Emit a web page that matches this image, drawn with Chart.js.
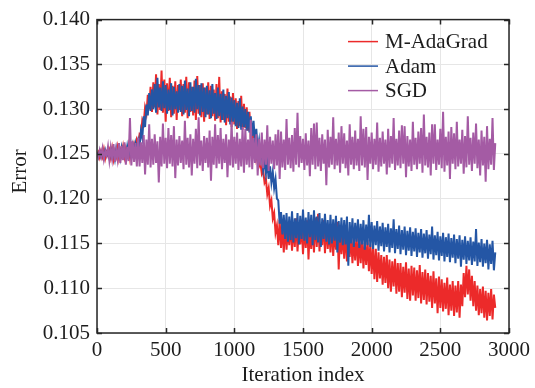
<!DOCTYPE html>
<html>
<head>
<meta charset="utf-8">
<title>Error vs iteration</title>
<script src="https://cdn.jsdelivr.net/npm/chart.js@4.4.1/dist/chart.umd.min.js"></script>
<style>
    html, body { margin: 0; padding: 0; background: #ffffff; }
    #errChart { display: block; }
</style>
</head>
<body>
<canvas id="errChart" width="535" height="388"></canvas>
<script>
// Series, one value every 10 iterations
const iterStep = 10;
const seriesNames = ['M-AdaGrad', 'Adam', 'SGD'];
const seriesColors = ['#ec2a2a', '#2456a5', '#a45ba4'];
const xTicks = [0, 500, 1000, 1500, 2000, 2500, 3000];
const yTicks = [0.105, 0.110, 0.115, 0.120, 0.125, 0.130, 0.135, 0.140];

const mAdaGrad = [
    0.1249,0.1252,0.1246,0.1253,0.1247,0.1255,0.1245,0.1252,0.1248,0.1254,
    0.1246,0.1256,0.1244,0.1253,0.1247,0.1257,0.1245,0.1254,0.1248,0.1258,
    0.1247,0.1256,0.1249,0.1259,0.1246,0.1257,0.1252,0.1261,0.1255,0.1266,
    0.1262,0.1272,0.1270,0.1288,0.1284,0.1302,0.1295,0.1316,0.1300,0.1325,
    0.1297,0.1330,0.1302,0.1339,0.1294,0.1328,0.1299,0.1343,0.1296,0.1333,
    0.1286,0.1329,0.1298,0.1335,0.1291,0.1326,0.1295,0.1331,0.1288,0.1327,
    0.1299,0.1333,0.1292,0.1328,0.1296,0.1336,0.1290,0.1330,0.1297,0.1325,
    0.1293,0.1332,0.1288,0.1337,0.1295,0.1327,0.1291,0.1329,0.1286,0.1324,
    0.1294,0.1330,0.1289,0.1326,0.1292,0.1322,0.1287,0.1328,0.1290,0.1336,
    0.1285,0.1320,0.1288,0.1317,0.1282,0.1323,0.1286,0.1314,0.1280,0.1318,
    0.1283,0.1312,0.1278,0.1309,0.1281,0.1315,0.1277,0.1306,0.1279,0.1302,
    0.1276,0.1297,0.1268,0.1284,0.1258,0.1266,0.1245,0.1252,0.1236,0.1240,
    0.1228,0.1232,0.1218,0.1222,0.1205,0.1212,0.1192,0.1198,0.1178,0.1184,
    0.1162,0.1170,0.1148,0.1176,0.1145,0.1168,0.1140,0.1172,0.1143,0.1166,
    0.1148,0.1174,0.1142,0.1169,0.1146,0.1178,0.1141,0.1167,0.1149,0.1173,
    0.1138,0.1171,0.1145,0.1176,0.1132,0.1168,0.1144,0.1173,0.1140,0.1179,
    0.1146,0.1183,0.1141,0.1170,0.1148,0.1176,0.1139,0.1172,0.1144,0.1167,
    0.1140,0.1171,0.1136,0.1165,0.1143,0.1174,0.1121,0.1168,0.1138,0.1163,
    0.1133,0.1164,0.1130,0.1158,0.1135,0.1160,0.1128,0.1155,0.1131,0.1160,
    0.1125,0.1155,0.1128,0.1157,0.1122,0.1151,0.1126,0.1154,0.1119,0.1149,
    0.1116,0.1147,0.1110,0.1144,0.1107,0.1140,0.1111,0.1137,0.1104,0.1135,
    0.1106,0.1137,0.1100,0.1132,0.1096,0.1130,0.1102,0.1133,0.1094,0.1128,
    0.1096,0.1128,0.1090,0.1124,0.1095,0.1129,0.1088,0.1122,0.1086,0.1125,
    0.1092,0.1123,0.1086,0.1120,0.1089,0.1126,0.1083,0.1118,0.1087,0.1121,
    0.1082,0.1117,0.1085,0.1114,0.1078,0.1119,0.1083,0.1111,0.1072,0.1113,
    0.1078,0.1110,0.1074,0.1106,0.1077,0.1112,0.1070,0.1104,0.1075,0.1108,
    0.1069,0.1103,0.1073,0.1108,0.1067,0.1104,0.1080,0.1117,0.1090,0.1125,
    0.1093,0.1121,0.1086,0.1114,0.1080,0.1108,0.1075,0.1103,0.1070,0.1099,
    0.1072,0.1102,0.1067,0.1097,0.1064,0.1095,0.1069,0.1099,0.1065,0.1093,
    0.1078
];

const adam = [
    0.1251,0.1248,0.1253,0.1247,0.1252,0.1246,0.1254,0.1248,0.1251,0.1245,
    0.1255,0.1247,0.1252,0.1244,0.1256,0.1248,0.1253,0.1245,0.1257,0.1249,
    0.1254,0.1246,0.1258,0.1248,0.1255,0.1247,0.1259,0.1250,0.1262,0.1256,
    0.1265,0.1258,0.1276,0.1268,0.1292,0.1280,0.1305,0.1293,0.1318,0.1298,
    0.1322,0.1300,0.1328,0.1296,0.1335,0.1302,0.1324,0.1298,0.1331,0.1301,
    0.1327,0.1295,0.1322,0.1299,0.1329,0.1293,0.1325,0.1300,0.1320,0.1296,
    0.1328,0.1297,0.1326,0.1294,0.1332,0.1299,0.1323,0.1292,0.1330,0.1298,
    0.1325,0.1296,0.1334,0.1300,0.1327,0.1293,0.1329,0.1297,0.1324,0.1291,
    0.1326,0.1294,0.1321,0.1290,0.1328,0.1295,0.1318,0.1289,0.1324,0.1292,
    0.1317,0.1288,0.1322,0.1285,0.1315,0.1290,0.1319,0.1283,0.1313,0.1286,
    0.1310,0.1281,0.1307,0.1279,0.1312,0.1277,0.1303,0.1280,0.1300,0.1276,
    0.1297,0.1274,0.1292,0.1270,0.1287,0.1262,0.1278,0.1255,0.1265,0.1245,
    0.1248,0.1232,0.1244,0.1228,0.1240,0.1222,0.1236,0.1218,0.1230,0.1212,
    0.1222,0.1200,0.1198,0.1172,0.1185,0.1160,0.1182,0.1155,0.1184,0.1152,
    0.1180,0.1154,0.1186,0.1151,0.1178,0.1156,0.1184,0.1149,0.1181,0.1155,
    0.1188,0.1153,0.1179,0.1150,0.1185,0.1157,0.1182,0.1148,0.1187,0.1154,
    0.1180,0.1151,0.1184,0.1146,0.1178,0.1155,0.1183,0.1152,0.1176,0.1149,
    0.1182,0.1150,0.1177,0.1153,0.1181,0.1140,0.1175,0.1151,0.1179,0.1148,
    0.1176,0.1149,0.1180,0.1125,0.1174,0.1150,0.1178,0.1146,0.1173,0.1152,
    0.1177,0.1145,0.1172,0.1149,0.1176,0.1143,0.1171,0.1148,0.1182,0.1146,
    0.1174,0.1144,0.1170,0.1148,0.1175,0.1142,0.1169,0.1147,0.1173,0.1141,
    0.1168,0.1146,0.1172,0.1140,0.1167,0.1145,0.1177,0.1139,0.1166,0.1144,
    0.1170,0.1138,0.1165,0.1143,0.1169,0.1137,0.1164,0.1142,0.1168,0.1136,
    0.1163,0.1141,0.1167,0.1135,0.1162,0.1140,0.1166,0.1134,0.1161,0.1139,
    0.1165,0.1133,0.1160,0.1138,0.1169,0.1132,0.1159,0.1137,0.1163,0.1131,
    0.1158,0.1136,0.1162,0.1130,0.1157,0.1135,0.1161,0.1129,0.1156,0.1134,
    0.1160,0.1128,0.1155,0.1133,0.1159,0.1124,0.1154,0.1132,0.1158,0.1127,
    0.1153,0.1131,0.1157,0.1126,0.1152,0.1130,0.1166,0.1125,0.1151,0.1129,
    0.1155,0.1124,0.1150,0.1128,0.1154,0.1121,0.1149,0.1127,0.1153,0.1120,
    0.1140
];

const sgd = [
    0.1250,0.1246,0.1254,0.1247,0.1256,0.1244,0.1253,0.1248,0.1258,0.1243,
    0.1257,0.1245,0.1261,0.1241,0.1255,0.1244,0.1262,0.1240,0.1259,0.1243,
    0.1263,0.1238,0.1258,0.1242,0.1290,0.1237,0.1264,0.1241,0.1262,0.1236,
    0.1268,0.1236,0.1263,0.1240,0.1271,0.1227,0.1266,0.1238,0.1283,0.1235,
    0.1267,0.1238,0.1272,0.1240,0.1264,0.1218,0.1269,0.1236,0.1284,0.1239,
    0.1268,0.1234,0.1279,0.1239,0.1271,0.1236,0.1281,0.1223,0.1266,0.1237,
    0.1270,0.1240,0.1265,0.1233,0.1287,0.1238,0.1268,0.1235,0.1272,0.1226,
    0.1267,0.1239,0.1278,0.1234,0.1291,0.1237,0.1265,0.1231,0.1270,0.1240,
    0.1268,0.1235,0.1276,0.1220,0.1269,0.1238,0.1283,0.1234,0.1271,0.1239,
    0.1279,0.1233,0.1267,0.1240,0.1272,0.1224,0.1266,0.1237,0.1286,0.1235,
    0.1269,0.1239,0.1274,0.1232,0.1267,0.1236,0.1280,0.1229,0.1278,0.1238,
    0.1266,0.1235,0.1288,0.1233,0.1268,0.1240,0.1272,0.1226,0.1267,0.1237,
    0.1274,0.1234,0.1266,0.1238,0.1282,0.1231,0.1269,0.1239,0.1265,0.1233,
    0.1272,0.1237,0.1277,0.1222,0.1275,0.1235,0.1266,0.1232,0.1289,0.1238,
    0.1268,0.1234,0.1271,0.1230,0.1279,0.1238,0.1296,0.1235,0.1270,0.1240,
    0.1267,0.1232,0.1273,0.1237,0.1265,0.1225,0.1279,0.1238,0.1284,0.1233,
    0.1285,0.1236,0.1268,0.1231,0.1272,0.1239,0.1266,0.1215,0.1277,0.1235,
    0.1269,0.1238,0.1291,0.1233,0.1267,0.1237,0.1274,0.1229,0.1281,0.1239,
    0.1273,0.1234,0.1265,0.1226,0.1283,0.1238,0.1269,0.1233,0.1276,0.1237,
    0.1267,0.1231,0.1292,0.1237,0.1278,0.1235,0.1280,0.1221,0.1269,0.1239,
    0.1274,0.1233,0.1267,0.1238,0.1285,0.1230,0.1268,0.1236,0.1275,0.1239,
    0.1266,0.1227,0.1278,0.1235,0.1270,0.1239,0.1290,0.1232,0.1267,0.1237,
    0.1276,0.1234,0.1282,0.1239,0.1281,0.1224,0.1270,0.1236,0.1266,0.1231,
    0.1286,0.1238,0.1268,0.1233,0.1275,0.1239,0.1279,0.1229,0.1294,0.1237,
    0.1269,0.1235,0.1274,0.1226,0.1283,0.1239,0.1283,0.1232,0.1266,0.1238,
    0.1278,0.1234,0.1297,0.1230,0.1269,0.1237,0.1275,0.1222,0.1280,0.1239,
    0.1273,0.1233,0.1286,0.1236,0.1266,0.1239,0.1277,0.1228,0.1270,0.1235,
    0.1292,0.1238,0.1268,0.1231,0.1274,0.1239,0.1284,0.1234,0.1266,0.1226,
    0.1276,0.1237,0.1269,0.1219,0.1281,0.1233,0.1267,0.1238,0.1290,0.1232,
    0.1262
];

const fontFamily = 'Liberation Serif';
const textColor = '#1c1c1c';

Chart.defaults.font.family = fontFamily;
Chart.defaults.color = textColor;

function toPoints(values) {
    return values.map((v, i) => ({ x: i * iterStep, y: v }));
}

// Box, inward ticks, axis titles and the legend
const framePlugin = {
    id: 'frame',
    afterDraw(chart) {
        const { ctx, chartArea: a, scales } = chart;
        const tickLen = 5;
        ctx.save();
        ctx.strokeStyle = '#262626';
        ctx.lineWidth = 1.5;
        ctx.strokeRect(a.left, a.top, a.right - a.left, a.bottom - a.top);

        ctx.beginPath();
        xTicks.forEach(v => {
            const px = Math.round(scales.x.getPixelForValue(v)) + 0.5;
            ctx.moveTo(px, a.bottom); ctx.lineTo(px, a.bottom - tickLen);
            ctx.moveTo(px, a.top); ctx.lineTo(px, a.top + tickLen);
        });
        yTicks.forEach(v => {
            const py = Math.round(scales.y.getPixelForValue(v)) + 0.5;
            ctx.moveTo(a.left, py); ctx.lineTo(a.left + tickLen, py);
            ctx.moveTo(a.right, py); ctx.lineTo(a.right - tickLen, py);
        });
        ctx.stroke();

        ctx.fillStyle = textColor;
        ctx.font = '21px "' + fontFamily + '"';
        ctx.textAlign = 'center';
        ctx.textBaseline = 'middle';
        ctx.fillText('Iteration index', (a.left + a.right) / 2, a.bottom + 42);
        ctx.save();
        ctx.translate(20, (a.top + a.bottom) / 2 - 5);
        ctx.rotate(-Math.PI / 2);
        ctx.fillText('Error', 0, 0);
        ctx.restore();

        // legend, top right inside the box
        ctx.textAlign = 'left';
        seriesNames.forEach((name, i) => {
            const y = a.top + 22 + i * 24.5;
            ctx.strokeStyle = seriesColors[i];
            ctx.lineWidth = 1.5;
            ctx.beginPath();
            ctx.moveTo(a.right - 161, y);
            ctx.lineTo(a.right - 131, y);
            ctx.stroke();
            ctx.fillStyle = textColor;
            ctx.fillText(name, a.right - 124, y + 1);
        });
        ctx.restore();
    }
};

const ctx = document.getElementById('errChart');
const errChart = new Chart(ctx, {
    type: 'line',
    data: {
        datasets: [
            { label: seriesNames[0], data: toPoints(mAdaGrad), borderColor: seriesColors[0], order: 2 },
            { label: seriesNames[1], data: toPoints(adam), borderColor: seriesColors[1], order: 1 },
            { label: seriesNames[2], data: toPoints(sgd), borderColor: seriesColors[2], order: 0 }
        ]
    },
    options: {
        responsive: false,
        animation: false,
        devicePixelRatio: 1,
        layout: { padding: { top: 17, right: 22, left: 0, bottom: 0 } },
        elements: {
            line: { borderWidth: 2, tension: 0 },
            point: { radius: 0 }
        },
        plugins: {
            legend: { display: false },
            tooltip: { enabled: false }
        },
        scales: {
            x: {
                type: 'linear',
                min: 0,
                max: 3000,
                afterFit: scale => { scale.height = 55; },
                afterBuildTicks: scale => { scale.ticks = xTicks.map(v => ({ value: v })); },
                grid: { color: '#e6e6e6', lineWidth: 1, drawTicks: false },
                border: { display: false },
                ticks: {
                    padding: 5,
                    color: textColor,
                    font: { family: fontFamily, size: 21 },
                    maxRotation: 0,
                    callback: v => String(v)
                }
            },
            y: {
                type: 'linear',
                min: 0.105,
                max: 0.140,
                afterFit: scale => { scale.width = 97; },
                afterBuildTicks: scale => { scale.ticks = yTicks.map(v => ({ value: v })); },
                grid: { color: '#e6e6e6', lineWidth: 1, drawTicks: false },
                border: { display: false },
                ticks: {
                    padding: 7,
                    color: textColor,
                    font: { family: fontFamily, size: 21 },
                    callback: v => v.toFixed(3)
                }
            }
        }
    },
    plugins: [framePlugin]
});
</script>
</body>
</html>
